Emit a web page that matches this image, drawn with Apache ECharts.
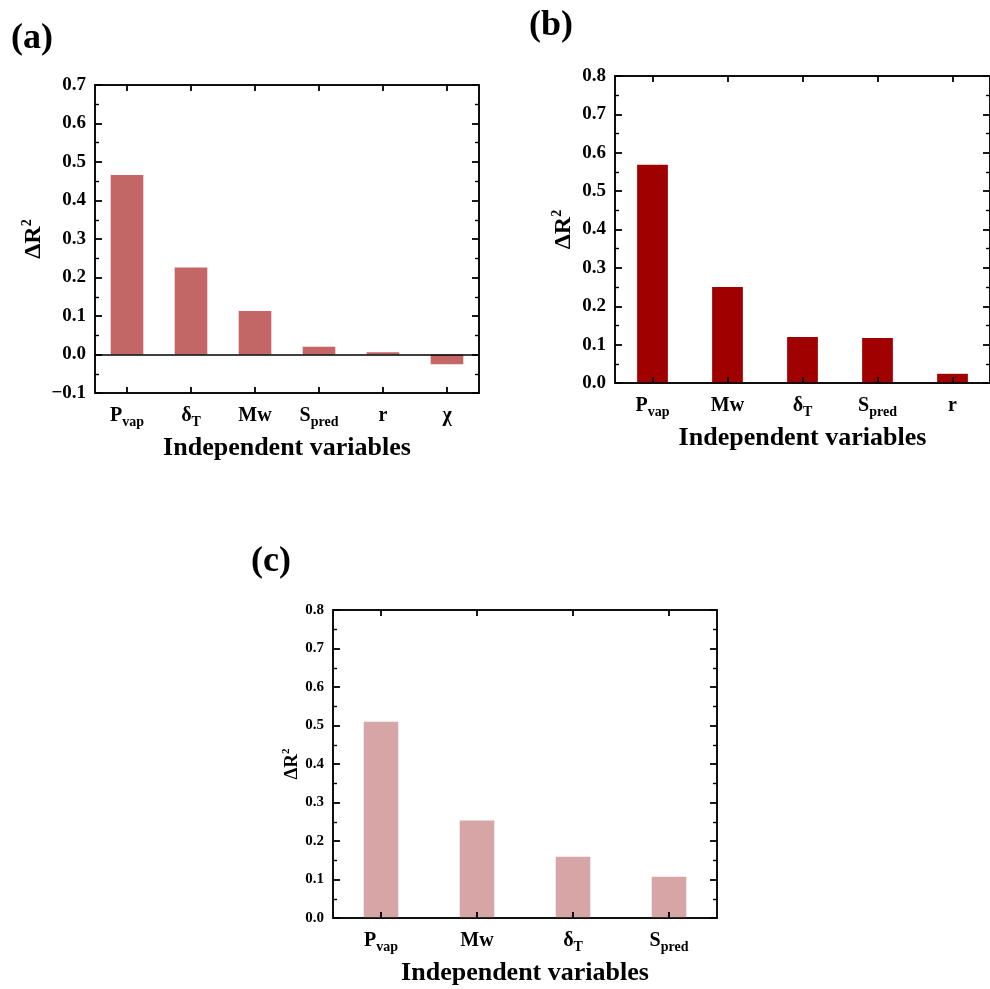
<!DOCTYPE html>
<html>
<head>
<meta charset="utf-8">
<script src="https://cdn.jsdelivr.net/npm/echarts@6/dist/echarts.min.js"></script>
<style>
  html, body { margin: 0; padding: 0; background: #fff; }
  #chart { width: 990px; height: 989px; }
</style>
</head>
<body>
<div id="chart"></div>
<script>
const chartDom = document.getElementById('chart');
const myChart = echarts.init(chartDom);

// panel (a)
const catsA = ['P_vap', 'δ_T', 'Mw', 'S_pred', 'r', 'χ'];
const valsA = [0.466, 0.226, 0.113, 0.020, 0.006, -0.025];
// panel (b)
const catsB = ['P_vap', 'Mw', 'δ_T', 'S_pred', 'r'];
const valsB = [0.569, 0.250, 0.120, 0.117, 0.024];
// panel (c)
const catsC = ['P_vap', 'Mw', 'δ_T', 'S_pred'];
const valsC = [0.510, 0.253, 0.159, 0.107];

const panelLabels = ['(a)', '(b)', '(c)'];
const xName = 'Independent variables';

const font = 'Liberation Serif, Times New Roman, serif';

function catLabel(v) {
    const parts = v.split('_');
    return parts[1] ? `{m|${parts[0]}}{s|${parts[1]}}` : `{m|${parts[0]}}`;
}

function yLabel(v) {
    const s = Math.abs(v).toFixed(1);
    return v < -1e-9 ? '\u2212' + s : s;
}

const panels = [
    { cats: catsA, vals: valsA, color: '#c46666', min: -0.1, max: 0.7, barWidth: '51%', yFont: 19, nameFont: 24, nameGap: 47,
      grid: { left: 95, top: 85, width: 384, height: 308 } },
    { cats: catsB, vals: valsB, color: '#a00000', min: 0, max: 0.8, barWidth: '41%', yFont: 19, nameFont: 24, nameGap: 37,
      grid: { left: 615, top: 76, width: 383, height: 307 } },
    { cats: catsC, vals: valsC, color: '#d6a5a5', min: 0, max: 0.8, barWidth: '36%', yFont: 15, nameFont: 19, nameGap: 29,
      grid: { left: 333, top: 610, width: 384, height: 308 } }
];

const grid = [], xAxis = [], yAxis = [], series = [];

panels.forEach((p, i) => {
    grid.push(Object.assign({ show: true, borderColor: '#000', borderWidth: 1.5, backgroundColor: 'transparent' }, p.grid));
    // bottom category axis
    xAxis.push({
        type: 'category', gridIndex: i, data: p.cats, position: 'bottom', z: 10,
        axisLine: { show: true, onZero: false, lineStyle: { color: '#000', width: 1.5 } },
        axisTick: { show: true, inside: true, alignWithLabel: true, interval: 0, length: 6, lineStyle: { color: '#000', width: 1.8 } },
        axisLabel: {
            formatter: catLabel, interval: 0, margin: 10, color: '#000',
            rich: {
                m: { fontFamily: font, fontWeight: 'bold', fontSize: 20, lineHeight: 26, color: '#000' },
                s: { fontFamily: font, fontWeight: 'bold', fontSize: 14, lineHeight: 17, verticalAlign: 'bottom', color: '#000' }
            }
        },
        name: xName, nameLocation: 'middle', nameGap: 42,
        nameTextStyle: { fontFamily: font, fontWeight: 'bold', fontSize: 26, color: '#000' },
        splitLine: { show: false }
    });
    // top tick axis
    xAxis.push({
        type: 'category', gridIndex: i, data: p.cats, position: 'top', z: 10,
        axisLine: { show: true, onZero: false, lineStyle: { color: '#000', width: 1.5 } },
        axisTick: { show: true, inside: true, alignWithLabel: true, interval: 0, length: 6, lineStyle: { color: '#000', width: 1.8 } },
        axisLabel: { show: false, interval: 0 },
        splitLine: { show: false }
    });
    // left value axis
    yAxis.push({
        type: 'value', gridIndex: i, min: p.min, max: p.max, interval: 0.1, position: 'left', z: 10,
        axisLine: { show: true, onZero: false, lineStyle: { color: '#000', width: 1.5 } },
        axisTick: { show: true, inside: true, length: 7, lineStyle: { color: '#000', width: 1.8 } },
        minorTick: { show: true, splitNumber: 2, length: 4, lineStyle: { color: '#000', width: 1.4 } },
        axisLabel: { formatter: yLabel, margin: 9, fontFamily: font, fontWeight: 'bold', fontSize: p.yFont, color: '#000' },
        splitLine: { show: false },
        name: '{a|ΔR}{sup|2}', nameLocation: 'middle', nameGap: p.nameGap, nameRotate: 90,
        nameMoveOverlap: false,
        nameTextStyle: {
            color: '#000',
            rich: {
                a: { fontFamily: font, fontWeight: 'bold', fontSize: p.nameFont, lineHeight: p.nameFont + 4, color: '#000' },
                sup: { fontFamily: font, fontWeight: 'bold', fontSize: Math.round(p.nameFont * 0.6), lineHeight: Math.round(p.nameFont * 0.6), verticalAlign: 'top', color: '#000' }
            }
        }
    });
    // right tick axis
    yAxis.push({
        type: 'value', gridIndex: i, min: p.min, max: p.max, interval: 0.1, position: 'right', z: 10,
        axisLine: { show: true, onZero: false, lineStyle: { color: '#000', width: 1.5 } },
        axisTick: { show: true, inside: true, length: 7, lineStyle: { color: '#000', width: 1.8 } },
        minorTick: { show: true, splitNumber: 2, length: 4, lineStyle: { color: '#000', width: 1.4 } },
        axisLabel: { show: false },
        splitLine: { show: false }
    });
    const s = {
        type: 'bar', xAxisIndex: i * 2, yAxisIndex: i * 2, data: p.vals, z: 1,
        barWidth: p.barWidth, itemStyle: { color: p.color }, silent: true
    };
    if (p.min < 0) {
        s.markLine = {
            silent: true, symbol: 'none', label: { show: false },
            lineStyle: { color: '#000', width: 1.5, type: 'solid' },
            data: [{ yAxis: 0 }]
        };
    }
    series.push(s);
});

const titlePos = [{ left: 11, top: 21 }, { left: 529, top: 8 }, { left: 251, top: 544 }];
const title = panelLabels.map((t, i) => Object.assign({
    text: t,
    textStyle: { fontFamily: font, fontWeight: 'bold', fontSize: 36, color: '#000' },
    padding: 0
}, titlePos[i]));

myChart.setOption({
    backgroundColor: '#fff',
    animation: false,
    title: title,
    grid: grid,
    xAxis: xAxis,
    yAxis: yAxis,
    series: series
});
</script>
</body>
</html>
